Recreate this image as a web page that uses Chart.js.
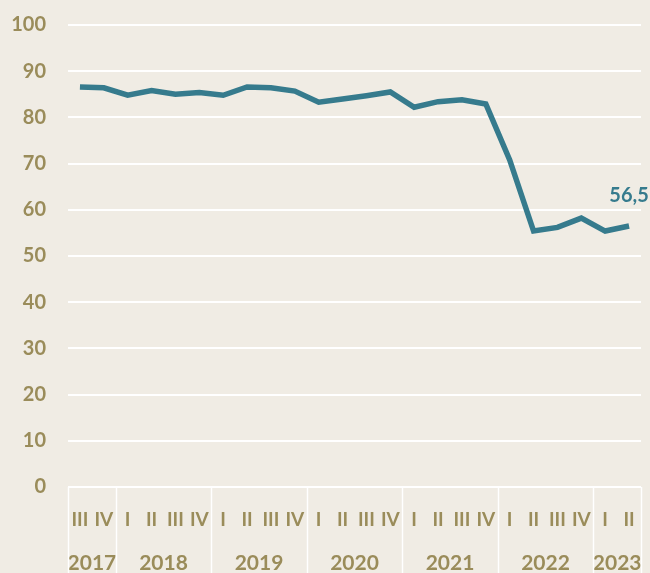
<!DOCTYPE html>
<html>
<head>
<meta charset="utf-8">
<script src="https://cdn.jsdelivr.net/npm/chart.js@4.4.1/dist/chart.umd.min.js"></script>
<style>
  html, body { margin: 0; padding: 0; background: #f0ece4; }
  #wrap { width: 650px; height: 573px; position: relative; }
</style>
</head>
<body>
<div id="wrap"><canvas id="chart"></canvas></div>
<script>
const quarters = ['III', 'IV',
    'I', 'II', 'III', 'IV',
    'I', 'II', 'III', 'IV',
    'I', 'II', 'III', 'IV',
    'I', 'II', 'III', 'IV',
    'I', 'II', 'III', 'IV',
    'I', 'II'];
const years = ['2017', '2018', '2019', '2020', '2021', '2022', '2023'];
const quartersPerYear = [2, 4, 4, 4, 4, 4, 2];
const values = [86.6, 86.4, 84.8, 85.8, 85.0, 85.4, 84.8, 86.6, 86.4, 85.7,
    83.3, 84.0, 84.7, 85.5, 82.2, 83.4, 83.8, 82.9, 70.8, 55.4,
    56.2, 58.2, 55.4, 56.5];
const lastLabel = '56,5';

const olive = '#9a8c5a';
const teal = '#367b8d';
const fontFamily = 'Lato, "Open Sans", sans-serif';

// year labels + separators under the quarter ticks
const yearAxis = {
    id: 'yearAxis',
    afterDraw(chart) {
        const ctx = chart.ctx;
        const x = chart.scales.x;
        const area = chart.chartArea;
        const half = (x.getPixelForValue(1) - x.getPixelForValue(0)) / 2;
        ctx.save();
        ctx.strokeStyle = '#ffffff';
        ctx.lineWidth = 1.5;
        let idx = 0;
        const edges = [area.left];
        years.forEach((y, i) => {
            const start = x.getPixelForValue(idx) - half;
            idx += quartersPerYear[i];
            const end = x.getPixelForValue(idx - 1) + half;
            edges.push(Math.min(end, area.right));
            ctx.fillStyle = olive;
            ctx.font = 'bold 21px ' + fontFamily;
            ctx.textAlign = 'center';
            ctx.textBaseline = 'middle';
            ctx.fillText(y, (start + end) / 2, 563);
        });
        edges.forEach(e => {
            const px = Math.round(e) + 0.5;
            ctx.beginPath();
            ctx.moveTo(px, area.bottom);
            ctx.lineTo(px, chart.height);
            ctx.stroke();
        });
        // value label on last point
        const meta = chart.getDatasetMeta(0);
        const p = meta.data[meta.data.length - 1];
        ctx.fillStyle = teal;
        ctx.font = 'bold 20px ' + fontFamily;
        ctx.textAlign = 'center';
        ctx.textBaseline = 'middle';
        ctx.fillText(lastLabel, p.x, p.y - 30);
        ctx.restore();
    }
};

new Chart(document.getElementById('chart'), {
    type: 'line',
    data: {
        labels: quarters,
        datasets: [{
            data: values,
            borderColor: teal,
            borderWidth: 5.5,
            pointRadius: 0,
            tension: 0,
            fill: false
        }]
    },
    options: {
        responsive: true,
        maintainAspectRatio: false,
        animation: false,
        layout: { padding: { top: 25, right: 9, left: 0, bottom: 0 } },
        plugins: {
            legend: { display: false },
            tooltip: { enabled: false }
        },
        scales: {
            x: {
                offset: true,
                grid: { display: false, drawTicks: false },
                border: { display: false },
                ticks: {
                    autoSkip: false,
                    maxRotation: 0,
                    color: olive,
                    font: { family: fontFamily, size: 19, weight: 'bold' },
                    padding: 21
                },
                afterFit(scale) {
                    scale.height = 86;
                    scale.paddingLeft = 0;
                    scale.paddingRight = 0;
                }
            },
            y: {
                min: 0,
                max: 100,
                ticks: {
                    stepSize: 10,
                    color: olive,
                    font: { family: fontFamily, size: 20, weight: 'bold' },
                    padding: 22
                },
                grid: { color: '#ffffff', lineWidth: 2, drawTicks: false },
                border: { display: false },
                afterFit(scale) {
                    scale.width = 68;
                    scale.paddingTop = 0;
                    scale.paddingBottom = 0;
                }
            }
        }
    },
    plugins: [yearAxis]
});
</script>
</body>
</html>
